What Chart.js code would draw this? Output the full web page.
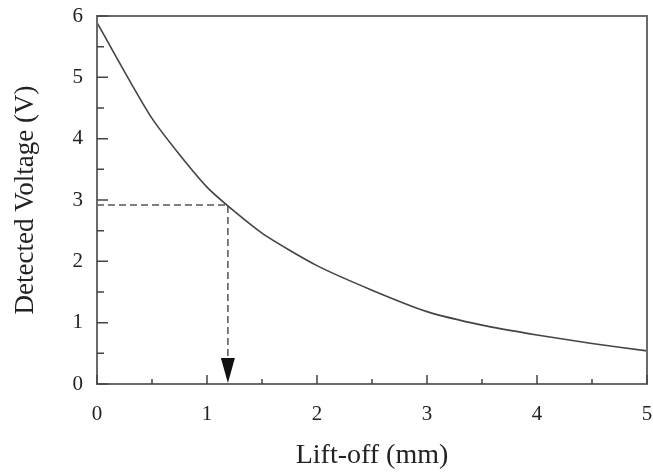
<!DOCTYPE html>
<html lang="en">
<head>
    <meta charset="UTF-8">
    <title>Detected Voltage vs Lift-off</title>
    <script src="https://cdn.jsdelivr.net/npm/chart.js"></script>
    <style>
        body { margin: 0; background: #fff; }
    </style>
</head>
<body>
    <canvas id="liftChart" width="653" height="472"></canvas>

    <script>
        // lift-off (mm) and detected voltage (V)
        const liftOff = [0, 0.5, 1, 1.5, 2, 2.5, 3, 3.5, 4, 4.5, 5];
        const voltage = [5.89, 4.33, 3.21, 2.46, 1.93, 1.53, 1.18, 0.96, 0.80, 0.66, 0.54];

        // the read-off marker (dashed guide + arrow)
        const markX = 1.19;
        const markY = 2.92;

        const xTicks = [0, 1, 2, 3, 4, 5];
        const yTicks = [0, 1, 2, 3, 4, 5, 6];

        const FONT = "'Liberation Serif', 'Times New Roman', serif";
        const AXIS_COLOR = "#6a6a6a";

        // box + inward ticks (major and minor) + arrow head
        const frameTicks = {
            id: "frameTicks",
            afterDatasetsDraw(chart) {
                const { ctx, chartArea: a, scales: { x, y } } = chart;
                ctx.save();
                ctx.strokeStyle = AXIS_COLOR;
                ctx.lineWidth = 2;
                ctx.strokeRect(a.left, a.top, a.right - a.left, a.bottom - a.top);

                ctx.lineWidth = 1.5;
                ctx.strokeStyle = "#444";
                ctx.beginPath();
                for (let v = 0; v <= 5.001; v += 0.5) {
                    const px = x.getPixelForValue(v);
                    const len = Number.isInteger(Math.round(v * 10) / 10) ? 9 : 5;
                    ctx.moveTo(px, a.bottom);
                    ctx.lineTo(px, a.bottom - len);
                }
                for (let v = 0; v <= 6.001; v += 0.5) {
                    const py = y.getPixelForValue(v);
                    const len = Number.isInteger(Math.round(v * 10) / 10) ? 11 : 7;
                    ctx.moveTo(a.left, py);
                    ctx.lineTo(a.left + len, py);
                }
                ctx.stroke();

                // arrow head at the bottom of the dashed drop line
                const ax = x.getPixelForValue(markX);
                const ay = y.getPixelForValue(0);
                ctx.fillStyle = "#111";
                ctx.beginPath();
                ctx.moveTo(ax, ay - 1);
                ctx.lineTo(ax - 7, ay - 26);
                ctx.lineTo(ax + 7, ay - 26);
                ctx.closePath();
                ctx.fill();
                ctx.restore();
            }
        };

        const ctx = document.getElementById("liftChart").getContext("2d");
        new Chart(ctx, {
            type: "scatter",
            data: {
                datasets: [
                    {
                        label: "Detected Voltage",
                        data: liftOff.map((v, i) => ({ x: v, y: voltage[i] })),
                        showLine: true,
                        borderColor: "#444",
                        borderWidth: 1.6,
                        pointRadius: 0,
                        tension: 0.2,
                    },
                    {
                        label: "guide",
                        data: [
                            { x: 0, y: markY },
                            { x: markX, y: markY },
                            { x: markX, y: 0.35 },
                        ],
                        showLine: true,
                        borderColor: "#555",
                        borderWidth: 1.5,
                        borderDash: [7, 4],
                        pointRadius: 0,
                        tension: 0,
                    },
                ],
            },
            options: {
                responsive: false,
                animation: false,
                layout: { padding: { left: 0, right: 6, top: 16, bottom: 0 } },
                plugins: {
                    legend: { display: false },
                    tooltip: { enabled: false },
                },
                scales: {
                    x: {
                        type: "linear",
                        min: 0,
                        max: 5,
                        afterFit: (s) => {
                            s.height = 88;
                            s.paddingLeft = 0;
                            s.paddingRight = 0;
                        },
                        afterBuildTicks: (s) => { s.ticks = xTicks.map(v => ({ value: v })); },
                        grid: { display: false, drawTicks: false },
                        border: { display: false },
                        ticks: {
                            color: "#222",
                            padding: 18,
                            font: { family: FONT, size: 21 },
                        },
                        title: {
                            display: true,
                            text: "Lift-off (mm)",
                            color: "#222",
                            font: { family: FONT, size: 28 },
                            padding: { top: 0, bottom: 0 },
                        },
                    },
                    y: {
                        type: "linear",
                        min: 0,
                        max: 6,
                        afterFit: (s) => {
                            s.width = 97;
                            s.paddingTop = 0;
                            s.paddingBottom = 0;
                        },
                        afterBuildTicks: (s) => { s.ticks = yTicks.map(v => ({ value: v })); },
                        grid: { display: false, drawTicks: false },
                        border: { display: false },
                        ticks: {
                            color: "#222",
                            padding: 14,
                            font: { family: FONT, size: 21 },
                        },
                        title: {
                            display: true,
                            text: "Detected Voltage (V)",
                            color: "#222",
                            font: { family: FONT, size: 27 },
                            padding: { top: 10, bottom: 0 },
                        },
                    },
                },
            },
            plugins: [frameTicks],
        });
    </script>
</body>
</html>
